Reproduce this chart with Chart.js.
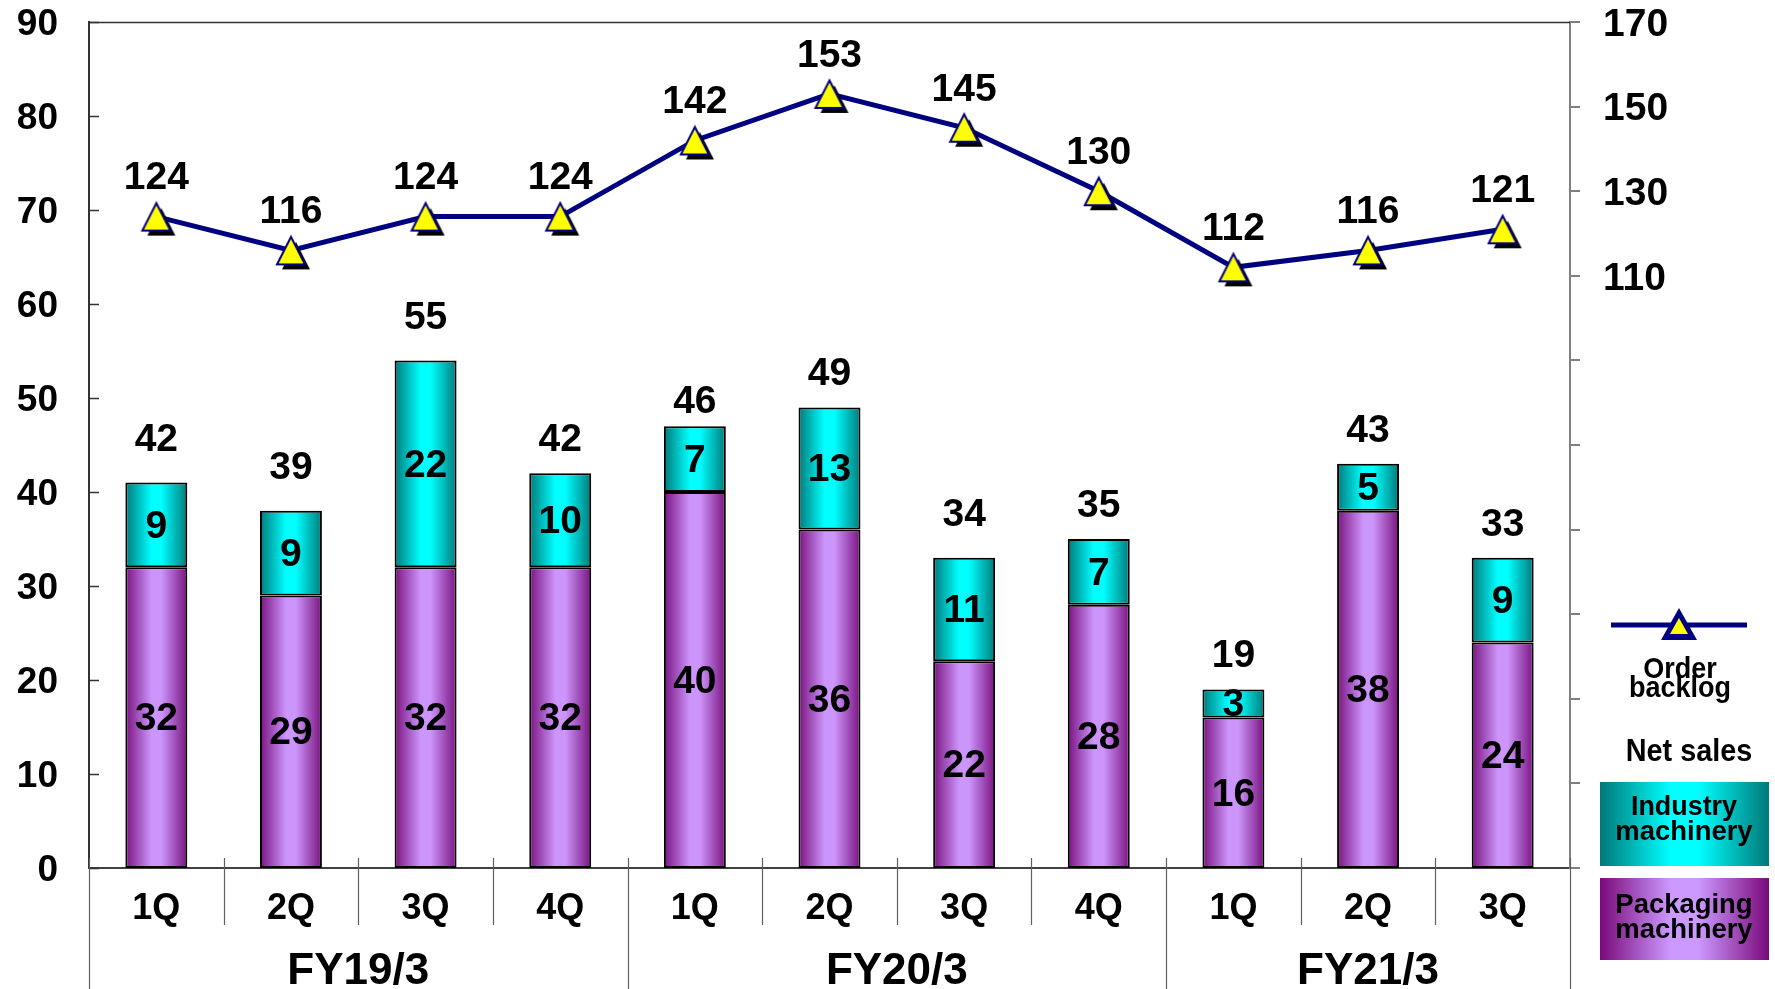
<!DOCTYPE html>
<html>
<head>
<meta charset="utf-8">
<script src="https://cdn.jsdelivr.net/npm/chart.js@4.4.1/dist/chart.umd.min.js"></script>
<style>
  html, body { margin: 0; padding: 0; background: #ffffff; }
  #wrap { width: 1775px; height: 989px; }
</style>
</head>
<body>
<div id="wrap"><canvas id="chart" width="1775" height="989"></canvas></div>
<script>
// Quarterly net sales (bars, left axis) and order backlog (line, right axis)
const quarters = ['1Q', '2Q', '3Q', '4Q', '1Q', '2Q', '3Q', '4Q', '1Q', '2Q', '3Q'];
const fiscalYears = ['FY19/3', 'FY20/3', 'FY21/3'];
const quartersPerYear = [4, 4, 3];

const packaging = [32, 29, 32, 32, 40, 36, 22, 28, 16, 38, 24];
const industry = [9, 9, 22, 10, 7, 13, 11, 7, 3, 5, 9];
const netSalesTotal = [42, 39, 55, 42, 46, 49, 34, 35, 19, 43, 33];
const orderBacklog = [124, 116, 124, 124, 142, 153, 145, 130, 112, 116, 121];

const salesTicks = [0, 10, 20, 30, 40, 50, 60, 70, 80, 90];
const backlogTickLabels = [110, 130, 150, 170];

const NAVY = '#000080';
const BAR_PCT = 0.46;
const LABEL_FONT = 'bold 39px "Liberation Sans", Arial, sans-serif';

// Horizontal "cylinder" shading across a bar
function shade(ctx, x0, x1, edge, mid) {
  const g = ctx.createLinearGradient(x0, 0, x1, 0);
  g.addColorStop(0, edge);
  g.addColorStop(0.42, mid);
  g.addColorStop(0.58, mid);
  g.addColorStop(1, edge);
  return g;
}

function barFill(edge, mid) {
  return function (c) {
    const chart = c.chart;
    if (!chart.chartArea || c.type !== 'data' || !chart.scales.x) return mid;
    const xs = chart.scales.x;
    const cx = xs.getPixelForValue(c.dataIndex);
    const w = xs.width / quarters.length * BAR_PCT;
    return shade(chart.ctx, cx - w / 2, cx + w / 2, edge, mid);
  };
}

// Yellow triangle marker with a dark drop shadow
function makeMarker() {
  const c = document.createElement('canvas');
  c.width = 56; c.height = 56;
  const g = c.getContext('2d');
  const tri = (ox, oy) => {
    g.beginPath();
    g.moveTo(28 + ox, 14.5 + oy);
    g.lineTo(42 + ox, 42 + oy);
    g.lineTo(14 + ox, 42 + oy);
    g.closePath();
  };
  tri(5, 5);
  g.fillStyle = '#000000';
  g.fill();
  tri(0, 0);
  g.fillStyle = '#ffff00';
  g.fill();
  g.lineWidth = 2;
  g.strokeStyle = NAVY;
  g.stroke();
  return c;
}

const decorations = {
  id: 'decorations',
  beforeDatasetsDraw(chart) {
    const ctx = chart.ctx;
    const a = chart.chartArea;
    const xs = chart.scales.x;
    const ys = chart.scales.y;
    ctx.save();
    // frame top
    ctx.strokeStyle = '#333333';
    ctx.lineWidth = 1.5;
    ctx.beginPath();
    ctx.moveTo(a.left, a.top + 0.5);
    ctx.lineTo(a.right, a.top + 0.5);
    ctx.stroke();
    // inward ticks on the sales axis
    ctx.lineWidth = 1.5;
    salesTicks.forEach(v => {
      const y = Math.round(ys.getPixelForValue(v)) + 0.5;
      ctx.beginPath();
      ctx.moveTo(a.left, y);
      ctx.lineTo(a.left + 10, y);
      ctx.stroke();
    });
    // category separators under the axis
    const step = xs.width / quarters.length;
    const yearEdges = [0];
    quartersPerYear.reduce((s, n) => { yearEdges.push(s + n); return s + n; }, 0);
    ctx.strokeStyle = '#606060';
    ctx.lineWidth = 1.2;
    for (let i = 0; i <= quarters.length; i++) {
      const x = Math.round(xs.left + i * step) + 0.5;
      const full = yearEdges.includes(i);
      ctx.beginPath();
      ctx.moveTo(x, a.bottom - 10);
      ctx.lineTo(x, full ? chart.height : a.bottom + 57);
      ctx.stroke();
    }
    ctx.restore();
  },
  afterDatasetsDraw(chart) {
    const ctx = chart.ctx;
    const xs = chart.scales.x;
    const ys = chart.scales.y;
    const y2 = chart.scales.y2;
    ctx.save();
    ctx.fillStyle = '#000000';
    ctx.font = LABEL_FONT;
    ctx.textAlign = 'center';
    ctx.textBaseline = 'middle';
    quarters.forEach((q, i) => {
      const x = xs.getPixelForValue(i);
      // segment values
      const pTop = ys.getPixelForValue(packaging[i]);
      ctx.fillText(String(packaging[i]), x, (ys.getPixelForValue(0) + pTop) / 2 + 2);
      const iTop = ys.getPixelForValue(packaging[i] + industry[i]);
      ctx.fillText(String(industry[i]), x, (pTop + iTop) / 2 + 2);
      // totals
      ctx.fillText(String(netSalesTotal[i]), x, ys.getPixelForValue(netSalesTotal[i]) - 33);
      // order backlog
      ctx.fillText(String(orderBacklog[i]), x, y2.getPixelForValue(orderBacklog[i]) - 38);
    });
    // fiscal year group labels
    ctx.font = 'bold 44px "Liberation Sans", Arial, sans-serif';
    let start = 0;
    const step = xs.width / quarters.length;
    fiscalYears.forEach((fy, k) => {
      const n = quartersPerYear[k];
      const cx = xs.left + (start + n / 2) * step;
      ctx.fillText(fy, cx, 972);
      start += n;
    });
    ctx.restore();
  },
  afterDraw(chart) {
    const ctx = chart.ctx;
    ctx.save();
    // legend: order backlog
    ctx.strokeStyle = NAVY;
    ctx.lineWidth = 5;
    ctx.beginPath();
    ctx.moveTo(1611, 625);
    ctx.lineTo(1747, 625);
    ctx.stroke();
    ctx.beginPath();
    ctx.moveTo(1679, 608);
    ctx.lineTo(1697, 640);
    ctx.lineTo(1661, 640);
    ctx.closePath();
    ctx.fillStyle = NAVY;
    ctx.fill();
    ctx.beginPath();
    ctx.moveTo(1679, 618);
    ctx.lineTo(1688, 634);
    ctx.lineTo(1670, 634);
    ctx.closePath();
    ctx.fillStyle = '#ffff00';
    ctx.fill();

    const text = (s, x, y, size, sx) => {
      ctx.save();
      ctx.translate(x, y);
      ctx.scale(sx, 1);
      ctx.font = 'bold ' + size + 'px "Liberation Sans", Arial, sans-serif';
      ctx.fillStyle = '#000000';
      ctx.textAlign = 'center';
      ctx.textBaseline = 'alphabetic';
      ctx.fillText(s, 0, 0);
      ctx.restore();
    };
    text('Order', 1680, 678, 30, 0.9);
    text('backlog', 1680, 697, 30, 0.9);
    text('Net sales', 1689, 761, 32, 0.9);

    // legend swatches
    ctx.fillStyle = shade(ctx, 1600, 1769, '#007878', '#00ffff');
    ctx.fillRect(1600, 782, 169, 84);
    ctx.fillStyle = shade(ctx, 1600, 1769, '#7a0a7a', '#cc99ff');
    ctx.fillRect(1600, 878, 169, 82);
    text('Industry', 1684, 815, 28, 0.96);
    text('machinery', 1684, 840, 28, 0.98);
    text('Packaging', 1684, 913, 28, 0.98);
    text('machinery', 1684, 938, 28, 0.98);
    ctx.restore();
  }
};

const marker = makeMarker();

new Chart(document.getElementById('chart'), {
  data: {
    labels: quarters,
    datasets: [
      {
        type: 'line',
        label: 'Order backlog',
        data: orderBacklog,
        yAxisID: 'y2',
        order: 0,
        borderColor: NAVY,
        borderWidth: 5,
        pointStyle: marker,
        pointRadius: 14,
        pointHoverRadius: 14,
        tension: 0
      },
      {
        type: 'bar',
        label: 'Packaging machinery',
        data: packaging,
        yAxisID: 'y',
        stack: 'sales',
        order: 1,
        backgroundColor: barFill('#7a1280', '#cc95fb'),
        borderColor: '#000000',
        borderWidth: 2,
        borderSkipped: false,
        categoryPercentage: 1,
        barPercentage: BAR_PCT
      },
      {
        type: 'bar',
        label: 'Industry machinery',
        data: industry,
        yAxisID: 'y',
        stack: 'sales',
        order: 2,
        backgroundColor: barFill('#007a7a', '#00ffff'),
        borderColor: '#000000',
        borderWidth: 2,
        borderSkipped: false,
        categoryPercentage: 1,
        barPercentage: BAR_PCT
      }
    ]
  },
  options: {
    responsive: false,
    animation: false,
    events: [],
    layout: { padding: { top: 22, left: 0, right: 0, bottom: 0 } },
    plugins: { legend: { display: false }, tooltip: { enabled: false } },
    scales: {
      x: {
        type: 'category',
        position: 'bottom',
        stacked: true,
        offset: true,
        grid: { display: false },
        border: { display: true, color: '#404040', width: 2 },
        ticks: {
          color: '#000000',
          font: { family: '"Liberation Sans", Arial, sans-serif', size: 36, weight: 'bold' },
          padding: 11,
          maxRotation: 0,
          autoSkip: false
        },
        afterFit(s) { s.height = 121; s.paddingLeft = 0; s.paddingRight = 0; }
      },
      y: {
        position: 'left',
        stacked: true,
        min: 0,
        max: 90,
        grid: { display: false },
        border: { display: true, color: '#333333', width: 2 },
        afterBuildTicks(s) { s.ticks = salesTicks.map(v => ({ value: v })); },
        ticks: {
          color: '#000000',
          font: { family: '"Liberation Sans", Arial, sans-serif', size: 37, weight: 'bold' },
          padding: 23,
          labelOffset: 3
        },
        afterFit(s) { s.width = 89; s.paddingTop = 0; s.paddingBottom = 0; }
      },
      y2: {
        position: 'right',
        min: -30,
        max: 170,
        grid: { display: true, drawOnChartArea: false, drawTicks: true, tickLength: 10, color: '#808080', lineWidth: 2 },
        border: { display: true, color: '#808080', width: 2 },
        ticks: {
          stepSize: 20,
          color: '#000000',
          font: { family: '"Liberation Sans", Arial, sans-serif', size: 39, weight: 'bold' },
          padding: 23,
          labelOffset: 3,
          callback: v => backlogTickLabels.includes(v) ? String(v) : ''
        },
        afterFit(s) { s.width = 205; s.paddingTop = 0; s.paddingBottom = 0; }
      }
    }
  },
  plugins: [decorations]
});
</script>
</body>
</html>
